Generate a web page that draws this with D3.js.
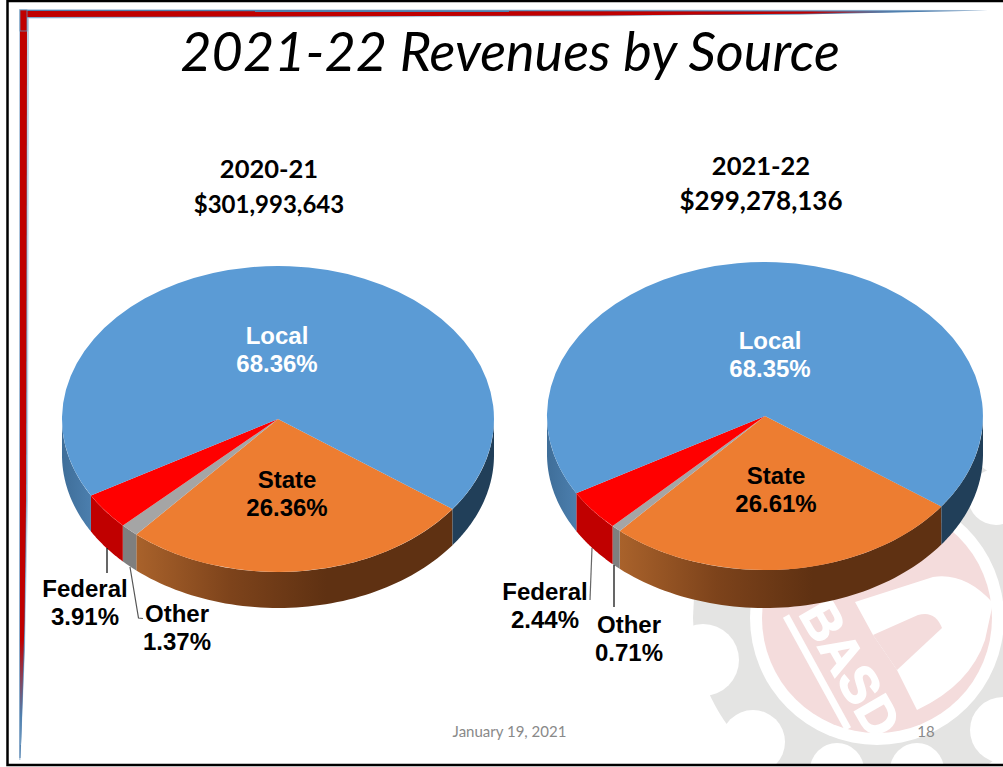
<!DOCTYPE html>
<html>
<head>
<meta charset="utf-8">
<script src="https://cdn.jsdelivr.net/npm/d3@7"></script>
<style>
  html, body { margin: 0; padding: 0; background: #fff; overflow: hidden; }
  svg { display: block; }
</style>
</head>
<body>
<div id="chart"></div>
<script>
const width = 1003;
const height = 767;

// order is the drawing order round the pie, clockwise from the State/Local edge
const sources = ["State", "Other", "Federal", "Local"];
const labels2021 = ["26.36%", "1.37%", "3.91%", "68.36%"];
const labels2122 = ["26.61%", "0.71%", "2.44%", "68.35%"];
const shares2021 = [26.36, 1.37, 3.91, 68.36];
// the printed 2021-22 percents only add to 98.11, the drawn Federal slice is bigger than its label
const shares2122 = [26.61, 0.71, 4.33, 68.35];

const pieTitles = ["2020-21", "2021-22"];
const pieTotals = ["$301,993,643", "$299,278,136"];

const topColors = ["#ed7d31", "#a5a5a5", "#ff0000", "#5b9bd5"];

const svg = d3.select("#chart").append("svg")
  .attr("width", width)
  .attr("height", height);

const defs = svg.append("defs");

function addGradient(id, stops, attrs) {
  const g = defs.append("linearGradient").attr("id", id);
  Object.entries(attrs).forEach(([k, v]) => g.attr(k, v));
  stops.forEach(s => g.append("stop").attr("offset", s[0]).attr("stop-color", s[1]));
}

addGradient("stripTop", [[0, "#c00000"], [0.86, "#c00000"], [0.95, "#4f81b0"], [1, "#4f81b0"]],
  { gradientUnits: "userSpaceOnUse", x1: 20, x2: 940, y1: 0, y2: 0 });
addGradient("stripLeft", [[0, "#c00000"], [0.84, "#c00000"], [0.94, "#4f7fae"], [1, "#7fa6c9"]],
  { gradientUnits: "userSpaceOnUse", x1: 0, x2: 0, y1: 10, y2: 760 });

// ---- background logo ----
const logo = svg.append("g");
const clip = defs.append("clipPath").attr("id", "slideClip");
clip.append("rect").attr("x", 9).attr("y", 2).attr("width", 994).attr("height", 763);
logo.attr("clip-path", "url(#slideClip)");

logo.append("circle").attr("cx", 877).attr("cy", 618).attr("r", 184).attr("fill", "#e4e4e3");
const gearCuts = [[703, 660, 36], [753, 742, 32], [837, 770, 27], [917, 770, 27], [1003, 730, 33], [996, 497, 28], [690, 560, 30]];
logo.selectAll("circle.cut").data(gearCuts).enter().append("circle")
  .attr("class", "cut")
  .attr("cx", d => d[0]).attr("cy", d => d[1]).attr("r", d => d[2])
  .attr("fill", "#fff");
logo.append("circle").attr("cx", 877).attr("cy", 618).attr("r", 127).attr("fill", "#fff");
logo.append("circle").attr("cx", 877).attr("cy", 618).attr("r", 115).attr("fill", "#f4dcdc");
logo.append("path")
  .attr("d", "M855,602 L933,577 Q965,572 993,603 L985,640 Q970,685 917,710 L897,670 L873,635 Z")
  .attr("fill", "#fff");
logo.append("path")
  .attr("d", "M873,635 L918,615 Q935,610 942,628 L897,670 Z")
  .attr("fill", "#f4dcdc");
logo.append("line")
  .attr("x1", 786).attr("y1", 616).attr("x2", 848).attr("y2", 729)
  .attr("stroke", "#fff").attr("stroke-width", 7);
logo.append("text")
  .attr("transform", "translate(851,668) rotate(60)")
  .attr("text-anchor", "middle")
  .attr("dy", "0.36em")
  .attr("font-family", "'Liberation Sans', sans-serif")
  .attr("font-weight", "bold")
  .attr("font-size", 52)
  .attr("fill", "#fff")
  .attr("stroke", "#fff")
  .attr("stroke-width", 1.5)
  .text("BASD");

// ---- slide frame ----
svg.append("rect").attr("x", 7.5).attr("y", 1).attr("width", 1000).attr("height", 764)
  .attr("fill", "none").attr("stroke", "#000").attr("stroke-width", 2.5);

svg.append("path").attr("d", "M19,9 L44,9 L988,10 L600,16.5 L44,18.5 L29,18.5 L28,500 L25,650 L20.5,760 L19,760 Z").attr("fill", "#bcd0e3");
svg.append("path").attr("d", "M20,10 L988,10.5 L800,14.5 L44,17.5 L27,17.5 L26.5,500 L24.5,650 L20.5,758 L19.5,758 Z").attr("fill", "#4f7fae");
svg.append("path").attr("d", "M20,11 L930,11.5 L800,13.8 L600,15.5 L27,17 L20,17 Z").attr("fill", "url(#stripTop)");
svg.append("path").attr("d", "M20,11 L27,11 L26,500 L24.5,620 L21,745 L20,745 Z").attr("fill", "url(#stripLeft)");
svg.append("rect").attr("x", 20).attr("y", 10).attr("width", 7).attr("height", 21)
  .attr("fill", "#c00000").attr("stroke", "#5f8fb8").attr("stroke-width", 0.8);

// ---- title ----
svg.append("text")
  .attr("x", 510).attr("y", 71)
  .attr("text-anchor", "middle")
  .attr("font-family", "Lato, sans-serif")
  .attr("font-style", "italic")
  .attr("font-size", 54)
  .attr("fill", "#000")
  .text("2021-22 Revenues by Source");

function drawPie(cfg) {
  const g = svg.append("g");

  // unit circle -> slide pixels
  const px = d3.scaleLinear().domain([-1, 1]).range([cfg.cx - cfg.rx, cfg.cx + cfg.rx]);
  const py = d3.scaleLinear().domain([-1, 1]).range([cfg.cy - cfg.ry, cfg.cy + cfg.ry]);

  const start = cfg.startDeg * Math.PI / 180;
  const arcs = d3.pie().sort(null).startAngle(start).endAngle(start + 2 * Math.PI)(cfg.shares);

  addGradient("wall0" + cfg.id, [[0, "#a9622b"], [0.3, "#7d431b"], [0.6, "#5f3112"], [1, "#5f3112"]],
    { gradientUnits: "objectBoundingBox" });
  addGradient("wall3" + cfg.id, [[0, "#3f6e99"], [0.07, "#4c7fae"], [0.5, "#2e5478"], [0.88, "#213f59"], [1, "#213f59"]],
    { gradientUnits: "userSpaceOnUse", x1: cfg.cx - cfg.rx, x2: cfg.cx + cfg.rx, y1: 0, y2: 0 });

  const wallFill = ["url(#wall0" + cfg.id + ")", "#7f7f7f", "#c00000", "url(#wall3" + cfg.id + ")"];

  // side wall, only the front half of the rim can be seen
  arcs.forEach((a, i) => {
    [0, 2 * Math.PI].forEach(shift => {
      const a0 = Math.max(a.startAngle - shift, Math.PI / 2);
      const a1 = Math.min(a.endAngle - shift, 3 * Math.PI / 2);
      if (a1 <= a0) return;
      const steps = d3.range(0, 61).map(k => a0 + (a1 - a0) * k / 60);
      const upper = steps.map(t => [px(Math.sin(t)), py(-Math.cos(t))]);
      const lower = steps.slice().reverse().map(t => [px(Math.sin(t)), py(-Math.cos(t)) + cfg.depth]);
      g.append("path")
        .attr("d", d3.line()(upper.concat(lower)) + "Z")
        .attr("fill", wallFill[i]);
    });
  });

  // top face
  const arc = d3.arc().innerRadius(0).outerRadius(1);
  g.append("g")
    .attr("transform", `translate(${cfg.cx},${cfg.cy}) scale(${cfg.rx},${cfg.ry})`)
    .selectAll("path")
    .data(arcs)
    .enter().append("path")
    .attr("d", arc)
    .attr("fill", (d, i) => topColors[i]);

  // leader lines
  cfg.leaders.forEach(l => {
    g.append("path")
      .attr("d", d3.line()(l.pts))
      .attr("fill", "none")
      .attr("stroke", l.color)
      .attr("stroke-width", 1.2);
  });

  // header
  g.append("text").attr("x", cfg.headX).attr("y", cfg.headY)
    .attr("text-anchor", "middle")
    .attr("font-family", "Lato, sans-serif").attr("font-weight", "bold").attr("font-size", 25.5)
    .text(cfg.title);
  g.append("text").attr("x", cfg.headX).attr("y", cfg.headY + 34.5)
    .attr("text-anchor", "middle")
    .attr("font-family", "Lato, sans-serif").attr("font-weight", "bold").attr("font-size", cfg.totalSize)
    .text(cfg.total);

  // slice labels
  cfg.labelPos.forEach((p, i) => {
    const t = g.append("text")
      .attr("text-anchor", "middle")
      .attr("font-family", "'Liberation Sans', sans-serif")
      .attr("font-weight", "bold")
      .attr("font-size", 24)
      .attr("fill", sources[i] === "Local" ? "#fff" : "#000");
    t.append("tspan").attr("x", p[0]).attr("y", p[1]).text(sources[i]);
    t.append("tspan").attr("x", p[0]).attr("y", p[1] + 28).text(cfg.labels[i]);
  });
}

drawPie({
  id: "a", cx: 278, cy: 419, rx: 216, ry: 153, depth: 36, startDeg: 126.1,
  shares: shares2021, labels: labels2021,
  title: pieTitles[0], total: pieTotals[0], totalSize: 24, headX: 269, headY: 178,
  labelPos: [[287, 488], [177, 622], [85, 597], [277, 344]],
  leaders: [
    { color: "#000", pts: [[107, 548], [107, 573]] },
    { color: "#555", pts: [[130, 567], [138.5, 618], [143, 618.5]] }
  ]
});

drawPie({
  id: "b", cx: 765, cy: 416, rx: 218, ry: 154, depth: 38, startDeg: 126.0,
  shares: shares2122, labels: labels2122,
  title: pieTitles[1], total: pieTotals[1], totalSize: 26, headX: 761, headY: 175,
  labelPos: [[776, 484], [629, 633], [545, 600], [770, 349]],
  leaders: [
    { color: "#666", pts: [[592, 548], [590, 600]] },
    { color: "#000", pts: [[614, 565], [614, 607]] }
  ]
});

// ---- footer ----
svg.append("text").attr("x", 509.5).attr("y", 737)
  .attr("text-anchor", "middle")
  .attr("font-family", "Lato, sans-serif").attr("font-size", 15).attr("fill", "#898989")
  .text("January 19, 2021");
svg.append("text").attr("x", 926).attr("y", 737)
  .attr("text-anchor", "middle")
  .attr("font-family", "Lato, sans-serif").attr("font-size", 15).attr("fill", "#898989")
  .text("18");
</script>
</body>
</html>
